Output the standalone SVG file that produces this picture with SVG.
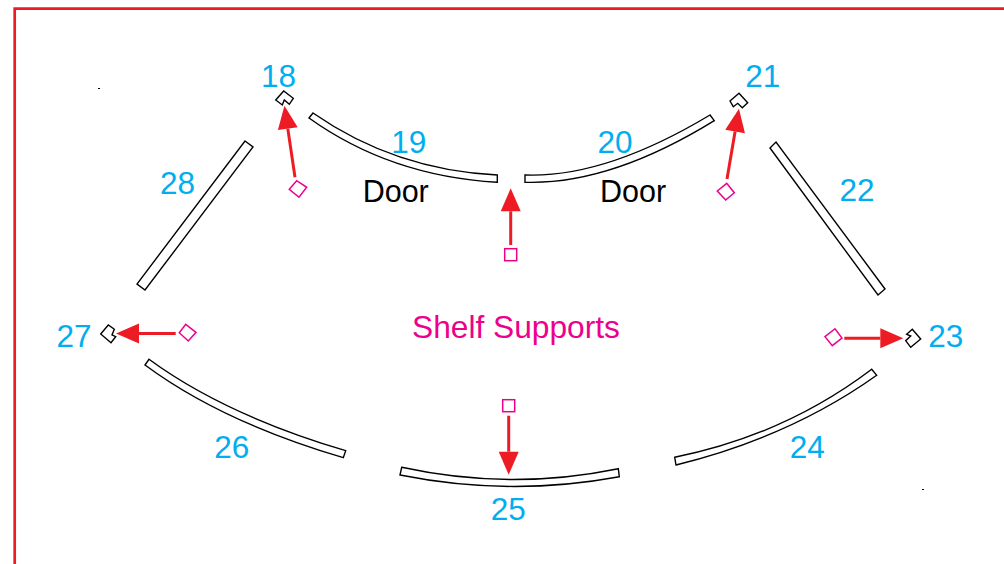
<svg xmlns="http://www.w3.org/2000/svg" width="1004" height="564" viewBox="0 0 1004 564">
<style>
.part{fill:#fff;stroke:#000;stroke-width:1.4;stroke-linejoin:miter}
.sup{fill:#fff;stroke:#ec008c;stroke-width:1.5}
.num{font-family:"Liberation Sans",Arial,sans-serif;font-size:31.5px;fill:#00aeef;text-anchor:middle}
.door{font-family:"Liberation Sans",Arial,sans-serif;font-size:30.5px;fill:#000;text-anchor:middle}
.title{font-family:"Liberation Sans",Arial,sans-serif;font-size:31.7px;fill:#ec008c;text-anchor:middle}
.arrow{fill:none;stroke:#ed1c24;stroke-width:3;marker-end:url(#head)}
</style>
<defs>
<marker id="head" markerUnits="userSpaceOnUse" markerWidth="24" markerHeight="22" refX="0" refY="11" orient="auto" overflow="visible">
<path d="M0,1 L23,11 L0,21 Z" fill="#ed1c24"/>
</marker>
</defs>
<rect width="1004" height="564" fill="#fff"/>
<path id="border" d="M14.7,564 V8.7 H1004" fill="none" stroke="#ed1c24" stroke-width="2.7"/>
<rect x="98" y="88" width="2" height="1" fill="#000"/>
<rect x="922" y="489" width="2" height="1" fill="#000"/>

<g id="node-18"><path class="part" d="M275.7,100 L283.7,91 L293.3,98.3 L289.3,104.3 L284.3,100 L282.3,105 Z"/><text class="num" x="278.5" y="86.5">18</text></g>
<g id="node-19"><path class="part" d="M309,118 L313,113 Q395,170 497.3,175 L497.3,182.3 Q390,176 309,118 Z"/><text class="num" x="408.7" y="152.5">19</text><text class="door" x="395.7" y="201.5">Door</text></g>
<g id="node-20"><path class="part" d="M525,175 Q605,178 710,115 L714.3,120.7 Q610,185 525,182.3 Z"/><text class="num" x="615" y="152.5">20</text><text class="door" x="633" y="201.5">Door</text></g>
<g id="node-21"><path class="part" d="M730,101 L739,93.3 L747.7,102.7 L742.3,107.7 L737.7,103.3 L733.3,106.7 Z"/><text class="num" x="762.7" y="86.5">21</text></g>
<g id="node-22"><path class="part" d="M770,148 L776,142 L885,289 L878,295 Z"/><text class="num" x="857" y="201">22</text></g>
<g id="node-23"><path class="part" d="M906.7,334.3 L912.3,329.3 L920.7,339 L910.7,347.3 L905.7,340.7 L910.7,336 Z"/><text class="num" x="945.7" y="346.5">23</text></g>
<g id="node-24"><path class="part" d="M674.7,457.3 Q785,435 871.7,369.3 L876.7,375.3 Q790,437 676,465 Z"/><text class="num" x="807.3" y="457.5">24</text></g>
<g id="node-25"><path class="part" d="M401.7,467.3 Q510,491 618.3,468.7 L619.3,476.7 Q510,497 400,475 Z"/><text class="num" x="508.3" y="519.5">25</text></g>
<g id="node-26"><path class="part" d="M145,365 L149,359.3 Q225,415 345.7,450.7 L343.3,457.7 Q222,422 145,365 Z"/><text class="num" x="231.7" y="457.5">26</text></g>
<g id="node-27"><path class="part" d="M100.7,334 L108.3,325 L114.3,329.3 L112,335 L115.7,336.7 L111,342.7 Z"/><text class="num" x="74" y="346.5">27</text></g>
<g id="node-28"><path class="part" d="M245,141 L253,147 L145,290 L137,284 Z"/><text class="num" x="177.5" y="194">28</text></g>

<g id="support-18"><path class="sup" d="M289.3,189.3 L296.7,180.7 L306.7,187.3 L299,197.3 Z"/></g>
<g id="support-21"><path class="sup" d="M717.3,191 L726.7,183.3 L734.3,192.7 L725.7,200 Z"/></g>
<g id="support-27"><path class="sup" d="M179.3,332.7 L185.7,324.3 L196,332.3 L188.3,341 Z"/></g>
<g id="support-23"><path class="sup" d="M825,336.7 L835,328.7 L842,338 L832.3,345.7 Z"/></g>
<g id="support-top"><rect class="sup" x="504.7" y="248.7" width="12" height="12"/></g>
<g id="support-bottom"><rect class="sup" x="502.7" y="399.7" width="12" height="12"/></g>
<g id="label-shelf"><text class="title" x="516" y="338">Shelf Supports</text></g>

<g id="connectors">
<path class="arrow" d="M295,177.3 L287.8,128.6"/>
<path class="arrow" d="M727,179 L735.1,131.5"/>
<path class="arrow" d="M510.7,245 V211.3"/>
<path class="arrow" d="M508.7,415.7 V451.7"/>
<path class="arrow" d="M175.7,333.6 H139"/>
<path class="arrow" d="M844.3,338.2 H880.3"/>
</g>
</svg>
